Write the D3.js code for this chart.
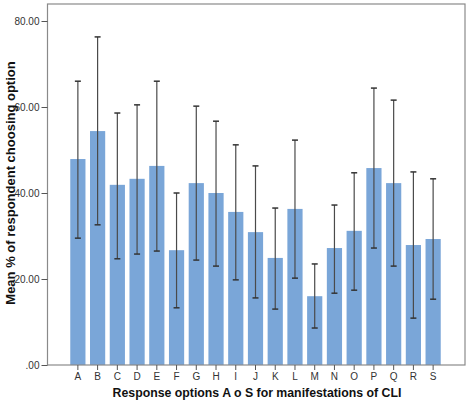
<!DOCTYPE html>
<html>
<head>
<meta charset="utf-8">
<script src="https://cdn.jsdelivr.net/npm/d3@7"></script>
<style>
  body { margin: 0; background: #fff; }
  text { font-family: "Liberation Sans", Arial, sans-serif; }
</style>
</head>
<body>
<div id="chart"></div>
<script>
var categories = ["A","B","C","D","E","F","G","H","I","J","K","L","M","N","O","P","Q","R","S"];
var means = [47.9, 54.4, 41.9, 43.3, 46.3, 26.7, 42.3, 40.0, 35.6, 30.9, 24.9, 36.3, 16.0, 27.2, 31.2, 45.8, 42.3, 27.9, 29.3];
var upper = [66.0, 76.3, 58.6, 60.5, 66.0, 40.0, 60.2, 56.7, 51.2, 46.3, 36.5, 52.3, 23.5, 37.2, 44.7, 64.4, 61.6, 44.9, 43.3];
var lower = [29.5, 32.6, 24.7, 25.8, 26.5, 13.3, 24.4, 23.0, 19.8, 15.6, 13.0, 20.2, 8.6, 16.7, 17.4, 27.2, 23.0, 10.9, 15.3];
var yTicks = [0, 20, 40, 60, 80];

function drawChart() {
  var svg = d3.select("#chart").append("svg").attr("width", 467).attr("height", 400);

  var frameLeft = 47.5, frameRight = 465, frameTop = 4, frameBottom = 365;

  var x = d3.scaleBand().domain(categories).range([68, 443]).paddingInner(0.23).paddingOuter(0.115);
  var y = d3.scaleLinear().domain([0, 80]).range([frameBottom, 21]);

  // bars
  svg.selectAll("rect.bar").data(categories).enter().append("rect")
    .attr("class", "bar")
    .attr("x", function(d){ return x(d); })
    .attr("width", x.bandwidth())
    .attr("y", function(d, i){ return y(means[i]); })
    .attr("height", function(d, i){ return frameBottom - y(means[i]); })
    .attr("fill", "#7aa6d8");

  // error bars
  categories.forEach(function(c, i){
    var cx = x(c) + x.bandwidth() / 2;
    svg.append("line").attr("x1", cx).attr("x2", cx).attr("y1", y(upper[i])).attr("y2", y(lower[i]))
      .attr("stroke", "#4a4a4a").attr("stroke-width", 1.2);
    [upper[i], lower[i]].forEach(function(v){
      svg.append("line").attr("x1", cx - 3).attr("x2", cx + 3).attr("y1", y(v)).attr("y2", y(v))
        .attr("stroke", "#333").attr("stroke-width", 1.5);
    });
  });

  // frame
  svg.append("rect").attr("x", frameLeft).attr("y", frameTop)
    .attr("width", frameRight - frameLeft).attr("height", frameBottom - frameTop)
    .attr("fill", "none").attr("stroke", "#8a8a8a").attr("stroke-width", 1.2);

  // y axis
  var yAxis = d3.axisLeft(y).tickValues(yTicks).tickSize(6).tickPadding(2)
    .tickFormat(function(d){ return d === 0 ? ".00" : d3.format(".2f")(d); });
  var gy = svg.append("g").attr("transform", "translate(" + frameLeft + ",0)").call(yAxis);
  gy.select(".domain").remove();
  gy.selectAll("line").attr("stroke", "#555");
  gy.selectAll("text").attr("font-size", 10).attr("fill", "#333");

  // x axis
  var xAxis = d3.axisBottom(x).tickSize(5).tickPadding(3);
  var gx = svg.append("g").attr("transform", "translate(0," + frameBottom + ")").call(xAxis);
  gx.select(".domain").remove();
  gx.selectAll("line").attr("stroke", "#555");
  gx.selectAll("text").attr("font-size", 10).attr("fill", "#333");

  // axis titles
  svg.append("text").attr("x", 257).attr("y", 397)
    .attr("text-anchor", "middle").attr("font-size", 12.3).attr("font-weight", "bold").attr("fill", "#111")
    .text("Response options A o S for manifestations of CLI");

  svg.append("text").attr("transform", "translate(15,183) rotate(-90)")
    .attr("text-anchor", "middle").attr("font-size", 13).attr("font-weight", "bold").attr("fill", "#111")
    .text("Mean % of respondent choosing option");
}

drawChart();
</script>
</body>
</html>
